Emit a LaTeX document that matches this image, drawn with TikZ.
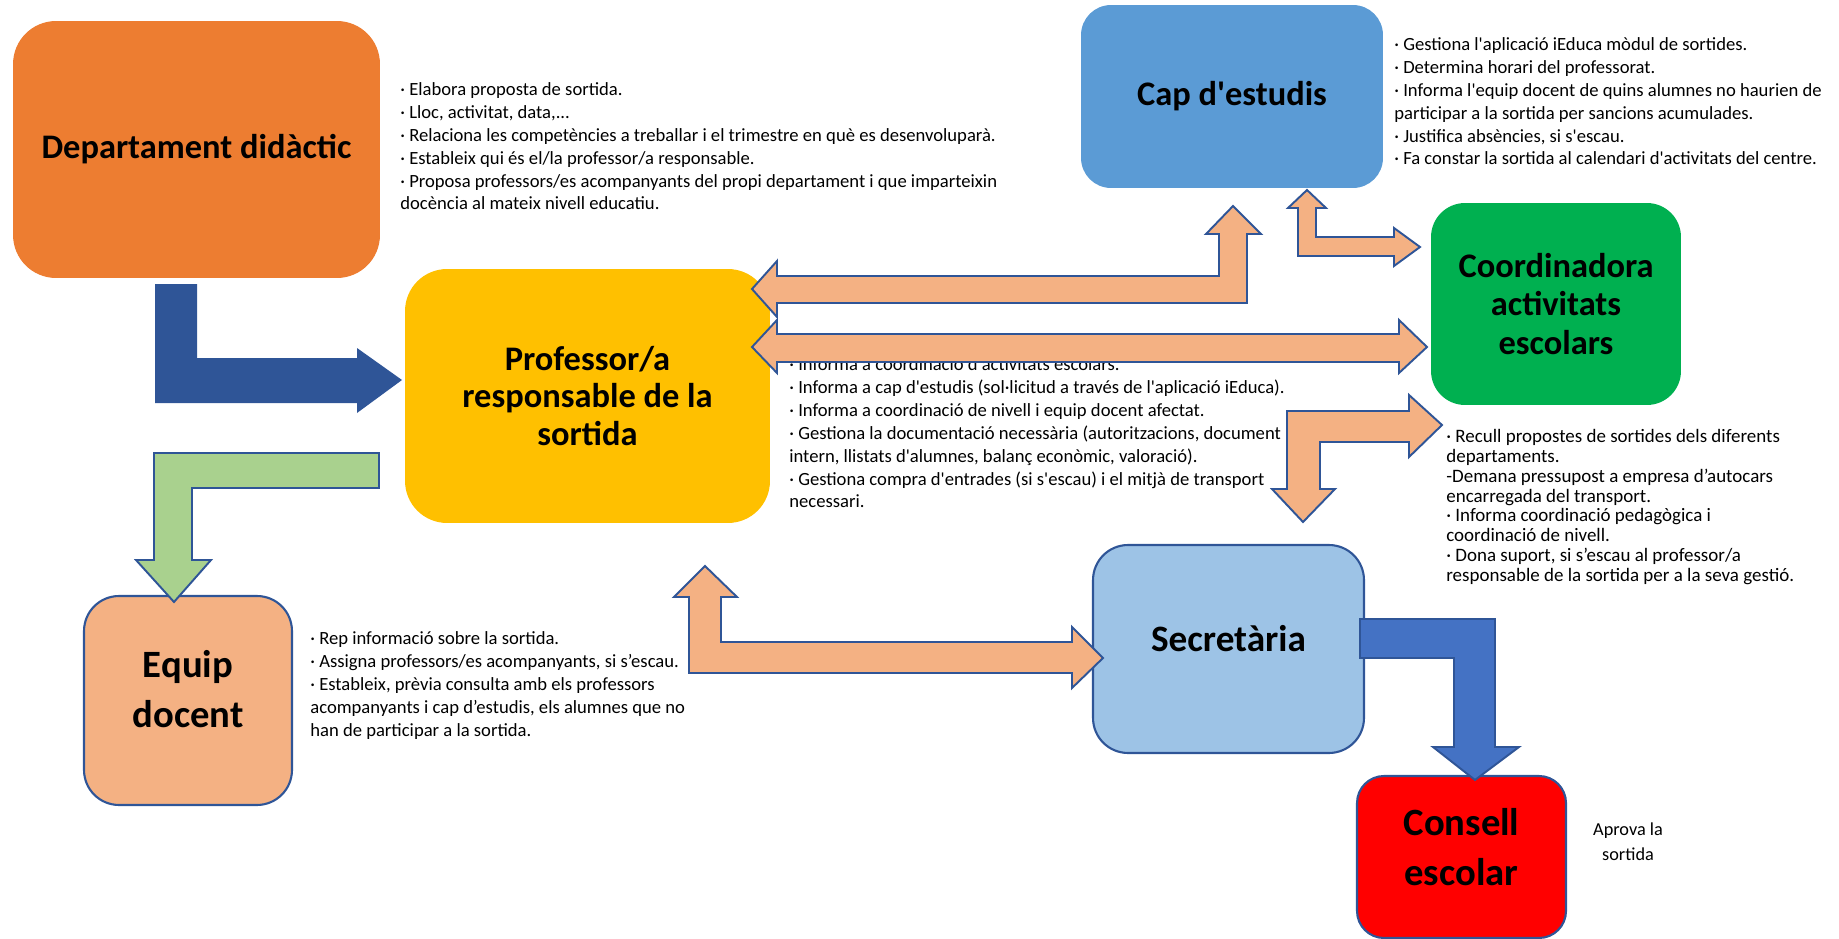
\documentclass[tikz,border=0pt]{standalone}
\usepackage{fontspec}
\setmainfont{Carlito}
\usepackage{xcolor}
\newcommand{\ap}{\textquotesingle}

\definecolor{deptorange}{HTML}{ED7D31}
\definecolor{profyellow}{HTML}{FFC000}
\definecolor{capblue}{HTML}{5B9BD5}
\definecolor{coordgreen}{HTML}{00B050}
\definecolor{secrblue}{HTML}{9DC3E6}
\definecolor{equippeach}{HTML}{F4B183}
\definecolor{consred}{HTML}{FF0000}
\definecolor{edgeblue}{HTML}{2F5597}
\definecolor{midblue}{HTML}{4472C4}
\definecolor{leafgreen}{HTML}{A9D18E}

\begin{document}
\begin{tikzpicture}[x=0.02cm,y=-0.02cm,
  box/.style={rectangle,inner sep=0pt,align=center,font={\bfseries\fontsize{19.6}{21.5}\selectfont}},
  bigbox/.style={box,font={\bfseries\fontsize{22}{28}\selectfont}},
  desc/.style={anchor=west,inner sep=0pt,align=left,font={\fontsize{10.6}{13}\selectfont}},
  blockarrow/.style={fill=equippeach,draw=edgeblue,line width=1.1pt}]
  \useasboundingbox (0,0) rectangle (1839,939);

  % caixes
  \node[box,fill=deptorange,minimum width=7.34cm,minimum height=5.14cm,rounded corners=0.86cm] (dept) at (196.5,149.5) {Departament didàctic};
  \node[box,fill=profyellow,minimum width=7.3cm,minimum height=5.08cm,rounded corners=0.84cm] (prof) at (587.5,396) {Professor/a\\responsable de la\\sortida};
  \node[box,fill=capblue,minimum width=6.04cm,minimum height=3.66cm,rounded corners=0.6cm] (cap) at (1232,96.5) {Cap d\ap estudis};
  \node[box,fill=coordgreen,minimum width=5cm,minimum height=4.04cm,rounded corners=0.68cm,font={\bfseries\fontsize{19.6}{21.8}\selectfont}] (coord) at (1556,304) {Coordinadora\\activitats\\escolars};
  \node[box,draw=edgeblue,line width=1.2pt,fill=equippeach,minimum width=4.16cm,minimum height=4.18cm,rounded corners=0.7cm] (equip) at (188,700.5) {};
    \node[bigbox] (equipt) at (188,689) {Equip\\docent};
  \node[box,draw=edgeblue,line width=1.2pt,fill=secrblue,minimum width=5.42cm,minimum height=4.16cm,rounded corners=0.7cm] (secr) at (1228.5,649) {};
    \node[box,font={\bfseries\fontsize{21.2}{24}\selectfont}] (secrt) at (1228.5,639) {Secretària};
  \node[box,draw=edgeblue,line width=1.2pt,fill=consred,minimum width=4.18cm,minimum height=3.24cm,rounded corners=0.54cm] (cons) at (1461.5,857) {};
    \node[bigbox] (const) at (1461.5,847) {Consell\\escolar};

  % textos
  \node[desc] (deptd) at (400,146.5) {· Elabora proposta de sortida.\\· Lloc, activitat, data,...\\· Relaciona les competències a treballar i el trimestre en què es desenvoluparà.\\· Estableix qui és el/la professor/a responsable.\\· Proposa professors/es acompanyants del propi departament i que imparteixin\\docència al mateix nivell educatiu.};
  \node[desc] (capd) at (1394,101.5) {· Gestiona l\ap aplicació iEduca mòdul de sortides.\\· Determina horari del professorat.\\· Informa l\ap equip docent de quins alumnes no haurien de\\participar a la sortida per sancions acumulades.\\· Justifica absències, si s\ap escau.\\· Fa constar la sortida al calendari d\ap activitats del centre.};
  \node[desc] (profd) at (789,433) {· Informa a coordinació d\ap activitats escolars.\\· Informa a cap d\ap estudis (sol·licitud a través de l\ap aplicació iEduca).\\· Informa a coordinació de nivell i equip docent afectat.\\· Gestiona la documentació necessària (autoritzacions, document\\intern, llistats d\ap alumnes, balanç econòmic, valoració).\\· Gestiona compra d\ap entrades (si s\ap escau) i el mitjà de transport\\necessari.};
  \node[desc,font={\fontsize{10.8}{11.3}\selectfont}] (coordd) at (1446,507) {· Recull propostes de sortides dels diferents\\departaments.\\-Demana pressupost a empresa d’autocars\\encarregada del transport.\\· Informa coordinació pedagògica i\\coordinació de nivell.\\· Dona suport, si s’escau al professor/a\\responsable de la sortida per a la seva gestió.};
  \node[desc] (equipd) at (310,685.5) {· Rep informació sobre la sortida.\\· Assigna professors/es acompanyants, si s’escau.\\· Estableix, prèvia consulta amb els professors\\acompanyants i cap d’estudis, els alumnes que no\\han de participar a la sortida.};
  \node[align=center,inner sep=0pt,font={\fontsize{10.4}{14}\selectfont}] (consd) at (1628,842) {Aprova la\\sortida};

  % fletxes
  \fill[edgeblue] (155,284) -- (197,284) -- (197,358) -- (357,358) -- (357,348) -- (402,380) -- (357,413) -- (357,403) -- (155,403) -- cycle;
  \draw[blockarrow,fill=leafgreen] (379,453) -- (379,488) -- (192,488) -- (192,560) -- (211,560) -- (174,602) -- (136,560) -- (154,560) -- (154,453) -- cycle;
  \draw[blockarrow] (752,289) -- (777,261) -- (777,276) -- (1219,276) -- (1219,234) -- (1206,234) -- (1233,206) -- (1261,234) -- (1247,234) -- (1247,303) -- (777,303) -- (777,317) -- cycle;
  \draw[blockarrow] (1307,190) -- (1326,208) -- (1316,208) -- (1316,237) -- (1394,237) -- (1394,228) -- (1420,247) -- (1394,266) -- (1394,256) -- (1298,256) -- (1298,208) -- (1288,208) -- cycle;
  \draw[blockarrow] (752,347) -- (777,320) -- (777,334) -- (1399,334) -- (1399,320) -- (1427,347) -- (1399,373) -- (1399,362) -- (777,362) -- (777,373) -- cycle;
  \draw[blockarrow] (1442,425) -- (1409,395) -- (1409,411) -- (1287,411) -- (1287,489) -- (1272,489) -- (1303,522) -- (1335,489) -- (1320,489) -- (1320,442) -- (1409,442) -- (1409,457) -- cycle;
  \draw[blockarrow] (705,566) -- (737,597) -- (721,597) -- (721,642) -- (1072,642) -- (1072,627) -- (1103,658) -- (1072,688) -- (1072,673) -- (689,673) -- (689,597) -- (674,597) -- cycle;
  \draw[blockarrow,fill=midblue] (1360,619) -- (1495,619) -- (1495,747) -- (1519,747) -- (1475,780) -- (1433,747) -- (1454,747) -- (1454,658) -- (1360,658) -- cycle;
\end{tikzpicture}
\end{document}
